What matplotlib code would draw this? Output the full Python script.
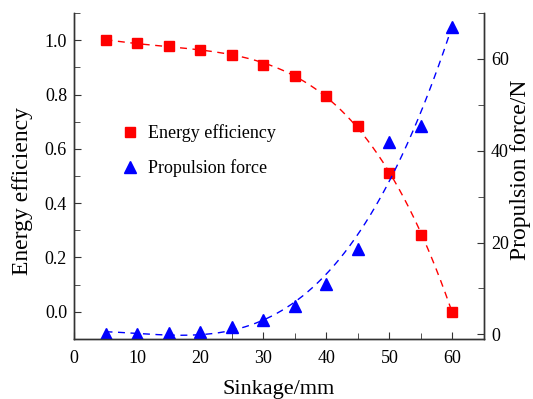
import numpy as np
import matplotlib
matplotlib.use("Agg")
import matplotlib.pyplot as plt
from matplotlib.ticker import MultipleLocator, FormatStrFormatter

plt.rcParams['font.family'] = ['Liberation Serif', 'DejaVu Serif']

# measured data
sinkage = [5, 10, 15, 20, 25, 30, 35, 40, 45, 50, 55, 60]
efficiency = [1.0, 0.99, 0.98, 0.963, 0.944, 0.91, 0.868, 0.796, 0.684, 0.51, 0.282, 0.0]
force = [0.15, 0.15, 0.3, 0.6, 1.6, 3.1, 6.2, 11.0, 18.5, 41.9, 45.3, 66.9]

red = '#ff0000'
blue = '#0000ff'
spine_col = '#333333'

fig = plt.figure(figsize=(5.33, 3.99), dpi=100)
ax = fig.add_axes([0.1388, 0.1504, 0.7692, 0.817])
ax2 = ax.twinx()

# fitted trend lines
xs = np.linspace(min(sinkage), max(sinkage), 200)
eff_fit = np.polyval(np.polyfit(sinkage, efficiency, 4), xs)
force_fit = np.polyval(np.polyfit(sinkage, force, 3), xs)

ax.plot(xs, eff_fit, color=red, lw=1.0, ls=(0, (5, 4)))
h1, = ax.plot(sinkage, efficiency, 's', color=red, ms=7, label='Energy efficiency')
ax2.plot(xs, force_fit, color=blue, lw=1.0, ls=(0, (5, 4)))
h2, = ax2.plot(sinkage, force, '^', color=blue, ms=8, label='Propulsion force')

ax.set_xlim(0, 65)
ax.set_ylim(-0.1, 1.1)
ax2.set_ylim(-1, 70)

ax.xaxis.set_major_locator(MultipleLocator(10))
ax.xaxis.set_minor_locator(MultipleLocator(5))
ax.yaxis.set_major_locator(MultipleLocator(0.2))
ax.yaxis.set_minor_locator(MultipleLocator(0.1))
ax2.yaxis.set_major_locator(MultipleLocator(20))
ax2.yaxis.set_minor_locator(MultipleLocator(10))
ax.yaxis.set_major_formatter(FormatStrFormatter('%.1f'))

for a in (ax, ax2):
    a.spines['top'].set_visible(False)
    for s in a.spines.values():
        s.set_color(spine_col)
        s.set_linewidth(1.0)
    a.tick_params(which='both', direction='in', color=spine_col, labelsize=13)
    a.tick_params(which='major', length=5)
    a.tick_params(which='minor', length=4)
ax.tick_params(axis='x', pad=8)
ax.tick_params(axis='y', pad=5)
ax2.tick_params(axis='y', pad=5)

ax.set_xlabel('Sinkage/mm', fontsize=16)
ax.set_ylabel('Energy efficiency', fontsize=17)
ax2.set_ylabel('Propulsion force/N', fontsize=17)
ax.xaxis.set_label_coords(0.5, -0.125)
ax.yaxis.set_label_coords(-0.10, 0.455)
ax2.yaxis.set_label_coords(1.063, 0.52)

ax.legend(handles=[h1, h2], loc='upper left', bbox_to_anchor=(0.075, 0.708),
          frameon=False, fontsize=13, handlelength=1.0, handletextpad=0.5,
          labelspacing=0.95)

fig.savefig('out.png', dpi=100)
